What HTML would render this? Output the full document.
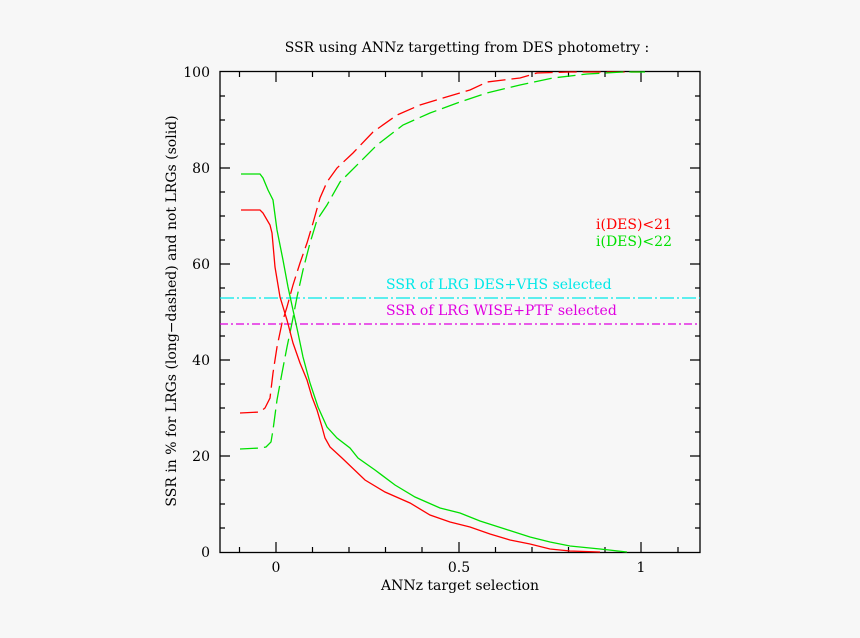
<!DOCTYPE html>
<html><head><meta charset="utf-8"><style>body{margin:0;background:#f7f7f7}</style></head><body>
<svg width="860" height="633" xmlns="http://www.w3.org/2000/svg" font-family="DejaVu Serif, Liberation Serif, serif" font-size="14">
<rect width="860" height="633" fill="#f7f7f7"/>
<text x="467" y="52" text-anchor="middle" font-size="14">SSR using ANNz targetting from DES photometry :</text>
<rect x="220" y="71.5" width="480" height="481" fill="none" stroke="#000" stroke-width="1.3"/>
<g stroke="#000" stroke-width="1.2">
<path d="M276 552v-10M459 552v-10M641 552v-10M276 72v10M459 72v10M641 72v10"/>
<path d="M239.5 552v-5M312.5 552v-5M349 552v-5M385.5 552v-5M422 552v-5M495.5 552v-5M532 552v-5M568.5 552v-5M605 552v-5M678 552v-5M239.5 72v5M312.5 72v5M349 72v5M385.5 72v5M422 72v5M495.5 72v5M532 72v5M568.5 72v5M605 72v5M678 72v5"/>
<path d="M220 456h10M220 360h10M220 264h10M220 168h10M700 456h-10M700 360h-10M700 264h-10M700 168h-10"/>
<path d="M220 528h5M220 504h5M220 480h5M220 432h5M220 408h5M220 384h5M220 336h5M220 312h5M220 288h5M220 240h5M220 216h5M220 192h5M220 144h5M220 120h5M220 96h5M700 528h-5M700 504h-5M700 480h-5M700 432h-5M700 408h-5M700 384h-5M700 336h-5M700 312h-5M700 288h-5M700 240h-5M700 216h-5M700 192h-5M700 144h-5M700 120h-5M700 96h-5"/>
</g>
<g text-anchor="end"><text x="210" y="557">0</text><text x="210" y="461">20</text><text x="210" y="365">40</text><text x="210" y="269">60</text><text x="210" y="173">80</text><text x="210" y="77">100</text></g>
<g text-anchor="middle"><text x="276" y="572">0</text><text x="459" y="572">0.5</text><text x="641" y="572">1</text></g>
<text x="460" y="590" text-anchor="middle">ANNz target selection</text>
<text transform="translate(176 311) rotate(-90)" text-anchor="middle">SSR in % for LRGs (long−dashed) and not LRGs (solid)</text>
<line x1="220" y1="298" x2="700" y2="298" stroke="#00e8e8" stroke-width="1.3" stroke-dasharray="14,3,2,3"/>
<line x1="220" y1="324" x2="700" y2="324" stroke="#e000e0" stroke-width="1.3" stroke-dasharray="8,3,2,3"/>
<text x="386" y="289" fill="#00e8e8">SSR of LRG DES+VHS selected</text>
<text x="386" y="315" fill="#e000e0">SSR of LRG WISE+PTF selected</text>
<text x="596" y="229" fill="#ff0000">i(DES)&lt;21</text>
<text x="596" y="246" fill="#00e000">i(DES)&lt;22</text>
<g fill="none" stroke-width="1.3">
<polyline stroke="#ff0000" stroke-dasharray="18,6" points="240,413 260,412 265,408 270,398 273,373 277,347 282,323 287,307 293,285 300,263 307,243 313,223 320,198 327,182 337,168 353,153 373,132 397,115 420,105 443,98 470,90 487,82 520,78 537,73 570,72 640,72"/>
<polyline stroke="#00e000" stroke-dasharray="18,6" points="240,449 260,448 266,447 271,442 273,430 277,400 282,373 287,347 292,323 297,297 303,270 310,243 317,220 327,205 340,182 360,162 377,145 403,125 430,113 460,102 487,93 520,85 553,78 587,74 623,72 645,72"/>
<polyline stroke="#ff0000" points="241,210 260,210 263,213 270,225 272,233 275,267 280,297 287,320 293,343 300,363 307,380 312,397 317,410 322,427 325,438 330,447 342,458 365,480 385,492 410,503 430,515 450,522 470,527 490,534 510,540 530,544 550,549 570,551 600,552"/>
<polyline stroke="#00e000" points="241,174 260,174 263,178 268,190 273,200 277,230 283,260 288,287 293,310 298,333 303,357 310,383 318,407 327,427 337,438 350,448 358,458 375,470 395,485 415,497 440,508 460,513 480,521 505,529 530,537 550,542 570,546 600,549 627,552"/>
</g>
</svg>
</body></html>
